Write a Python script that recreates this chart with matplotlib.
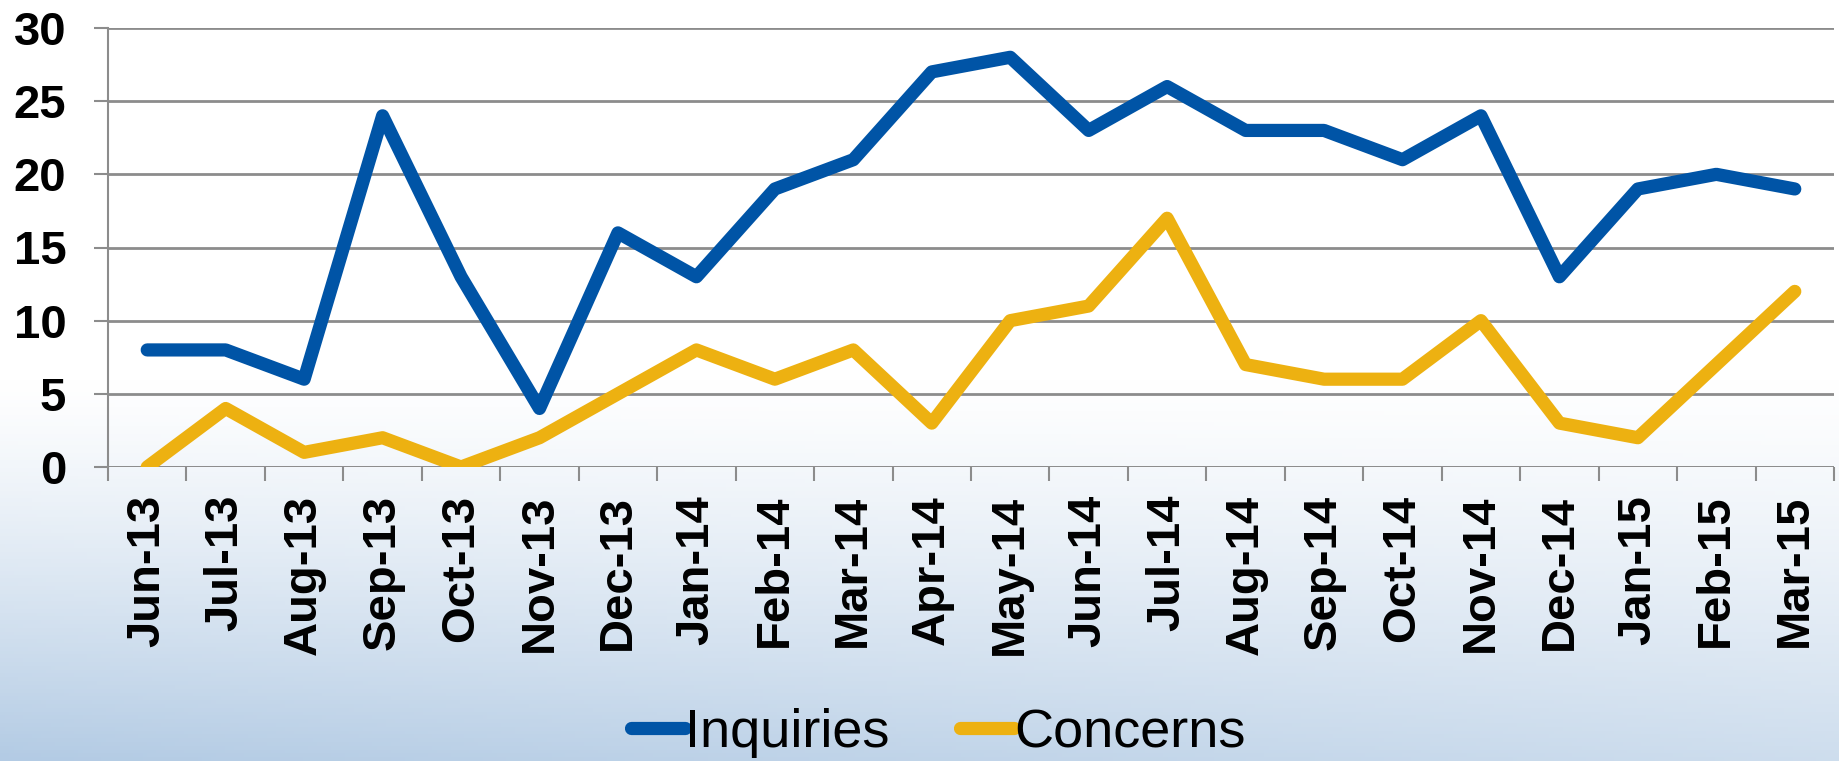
import matplotlib
matplotlib.use("Agg")
import matplotlib.pyplot as plt
import numpy as np
from matplotlib.colors import to_rgb

plt.rcParams["font.family"] = ["Liberation Sans", "DejaVu Sans"]

months = ["Jun-13", "Jul-13", "Aug-13", "Sep-13", "Oct-13", "Nov-13", "Dec-13",
          "Jan-14", "Feb-14", "Mar-14", "Apr-14", "May-14", "Jun-14", "Jul-14",
          "Aug-14", "Sep-14", "Oct-14", "Nov-14", "Dec-14", "Jan-15", "Feb-15",
          "Mar-15"]
inquiries = [8, 8, 6, 24, 13, 4, 16, 13, 19, 21, 27, 28, 23, 26, 23, 23, 21, 24,
             13, 19, 20, 19]
concerns = [0, 4, 1, 2, 0, 2, 5, 8, 6, 8, 3, 10, 11, 17, 7, 6, 6, 10, 3, 2, 7, 12]
y_ticks = [0, 5, 10, 15, 20, 25, 30]

BLUE = "#0054A6"
GOLD = "#EDB111"
GRID = "#8C8C8C"

fig = plt.figure(figsize=(18.39, 7.61), dpi=100)

# background: white on top, fading to light blue at the bottom
bg = fig.add_axes([0, 0, 1, 1], zorder=-10)
h, w = 200, 400
yy, xx = np.mgrid[0:1:complex(0, h), 0:1:complex(0, w)]
t = np.clip((yy - 0.5) / 0.5, 0, 1) ** 1.2 * (1.0 - 0.35 * xx)
top = np.array(to_rgb("#FFFFFF"))
bot = np.array(to_rgb("#B3CBE4"))
img = top[None, None, :] * (1 - t[..., None]) + bot[None, None, :] * t[..., None]
bg.imshow(img, aspect="auto", extent=[0, 1, 1, 0])
bg.axis("off")

ax = fig.add_axes([108 / 1839, 1 - 467 / 761, (1834 - 108) / 1839, (467 - 28) / 761])
ax.patch.set_alpha(0)

x = np.arange(len(months))
ax.plot(x, inquiries, color=BLUE, lw=9.5, solid_capstyle="round",
        solid_joinstyle="round", label="Inquiries", zorder=3)
ax.plot(x, concerns, color=GOLD, lw=9.5, solid_capstyle="round",
        solid_joinstyle="round", label="Concerns", zorder=3)

ax.set_xlim(-0.5, len(months) - 0.5)
ax.set_ylim(0, 30)
ax.set_yticks(y_ticks)
ax.set_yticklabels([str(v) for v in y_ticks], fontsize=34, fontweight="bold")
ax.set_xticks(x)
ax.set_xticklabels(months, rotation=90, fontsize=34, fontweight="bold")
ax.set_xticks(np.arange(len(months) + 1) - 0.5, minor=True)
ax.tick_params(axis="x", which="major", length=0, pad=20)
ax.tick_params(axis="x", which="minor", length=10, width=1.5, color=GRID)
ax.tick_params(axis="y", length=10, width=1.5, color=GRID, pad=20)

ax.grid(axis="y", color=GRID, lw=2, zorder=1)
for s in ["top", "right", "bottom"]:
    ax.spines[s].set_visible(False)
ax.spines["left"].set_color(GRID)
ax.spines["left"].set_linewidth(1.5)
ax.axhline(0, color=GRID, lw=2, zorder=2)

fig.legend(loc="center", bbox_to_anchor=(938 / 1839, 1 - 733 / 761), ncol=2,
           frameon=False, fontsize=39, handlelength=1.0, handletextpad=0.0,
           columnspacing=1.3)

fig.savefig("out.png", dpi=100)
